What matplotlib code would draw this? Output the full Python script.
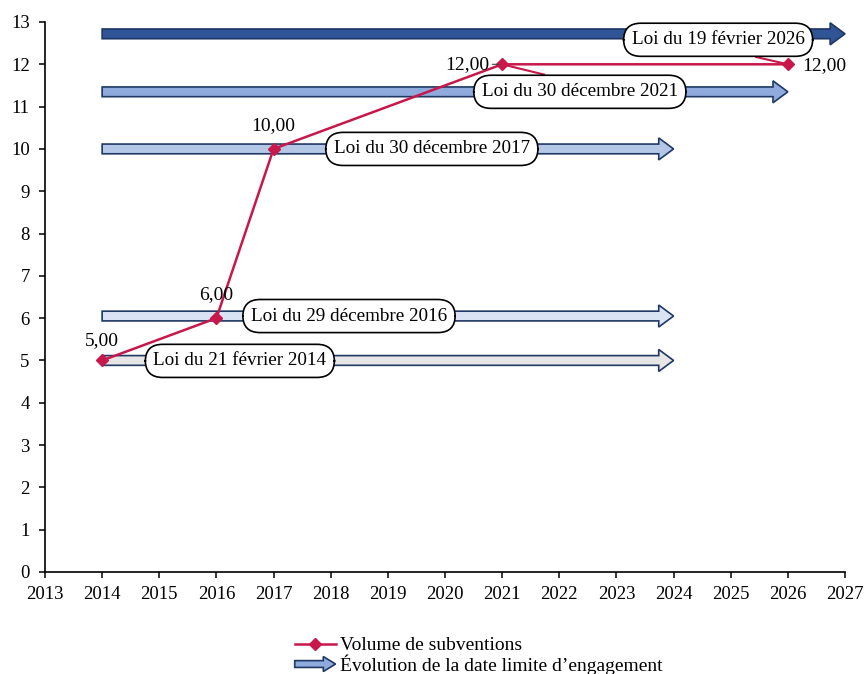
import matplotlib
matplotlib.use("Agg")
import matplotlib.pyplot as plt
from matplotlib.patches import FancyArrow
from matplotlib.lines import Line2D
from matplotlib.legend_handler import HandlerPatch

# Volume de subventions par loi
years = [2014, 2016, 2017, 2021, 2026]
volume = [5.00, 6.00, 10.00, 12.00, 12.00]

# Date limite d'engagement fixée par chaque loi
laws = ["Loi du 21 février 2014", "Loi du 29 décembre 2016", "Loi du 30 décembre 2017",
        "Loi du 30 décembre 2021", "Loi du 19 février 2026"]
law_start = [2014, 2014, 2014, 2014, 2014]
law_end = [2024, 2024, 2024, 2026, 2027]

# mise en page des flèches et bulles
arrow_y = [5.0, 6.05, 10.0, 11.35, 12.72]
arrow_fc = ["#e6e6e6", "#dae3f3", "#b4c7e7", "#8faadc", "#2f5597"]
bubble_xy = [(2016.41, 4.99), (2018.32, 6.05), (2019.77, 10.0), (2022.36, 11.35), (2024.78, 12.58)]

RED = "#c8174a"
EDGE = "#1f3864"
FONT = "Liberation Serif"

plt.rcParams["font.family"] = [FONT, "DejaVu Serif"]

fig = plt.figure(figsize=(8.65, 6.74), dpi=100)
ax = fig.add_axes([45 / 865, 1 - 572 / 674, 800 / 865, 550 / 674])

for x0, x1, y, fc in zip(law_start, law_end, arrow_y, arrow_fc):
    ax.add_patch(FancyArrow(x0, y, x1 - x0, 0, width=0.23, head_width=0.52, head_length=0.26,
                            length_includes_head=True, fc=fc, ec=EDGE, lw=1.2, zorder=2, clip_on=False))

ax.plot(years, volume, color=RED, lw=1.8, marker="D", ms=6, zorder=4, clip_on=False)

# étiquettes de valeurs
fmt = lambda v: f"{v:.2f}".replace(".", ",")
ax.text(years[0], volume[0] + 0.48, fmt(volume[0]), ha="center", va="center", fontsize=14, zorder=6)
ax.text(years[1], volume[1] + 0.55, fmt(volume[1]), ha="center", va="center", fontsize=14, zorder=6)
ax.text(years[2], volume[2] + 0.54, fmt(volume[2]), ha="center", va="center", fontsize=14, zorder=6)
ax.annotate(fmt(volume[3]), xy=(years[3] - 0.05, volume[3]), xytext=(years[3] - 0.22, volume[3]),
            ha="right", va="center", fontsize=14, zorder=6,
            arrowprops=dict(arrowstyle="-", color="#404040", lw=0.8, shrinkA=0, shrinkB=0))
ax.text(years[4] + 0.26, volume[4] - 0.02, fmt(volume[4]), ha="left", va="center", fontsize=14, zorder=6)

bbox = dict(boxstyle="round,pad=0.42,rounding_size=0.9", fc="white", ec="black", lw=1.2)
for i, (label, (bx, by)) in enumerate(zip(laws, bubble_xy)):
    if i == 3:
        ax.annotate(label, xy=(years[3], volume[3]), xytext=(bx, by), ha="center", va="center",
                    fontsize=13.8, bbox=bbox, zorder=7,
                    arrowprops=dict(arrowstyle="-", color=RED, lw=1.5, shrinkA=0, shrinkB=0,
                                    relpos=(0.5, 1.0)))
    elif i == 4:
        ax.annotate(label, xy=(years[4], volume[4]), xytext=(bx, by), ha="center", va="center",
                    fontsize=13.8, bbox=bbox, zorder=7,
                    arrowprops=dict(arrowstyle="-", color=RED, lw=1.5, shrinkA=0, shrinkB=0,
                                    relpos=(0.5, 0.0)))
    else:
        ax.text(bx, by, label, ha="center", va="center", fontsize=13.8, bbox=bbox, zorder=7)

ax.set_xlim(2013, 2027)
ax.set_ylim(0, 13)
ax.set_xticks(range(2013, 2028))
ax.set_yticks(range(0, 14))
ax.tick_params(direction="out", length=4, width=1.1, labelsize=13.5)
ax.tick_params(axis="y", pad=7)
ax.tick_params(axis="x", pad=6)
for s in ["top", "right"]:
    ax.spines[s].set_visible(False)
for s in ["left", "bottom"]:
    ax.spines[s].set_linewidth(1.2)


class HandlerArrow(HandlerPatch):
    def create_artists(self, legend, orig_handle, xdescent, ydescent, width, height, fontsize, trans):
        p = FancyArrow(-xdescent, -ydescent + height / 2, width, 0, width=height * 0.5,
                       head_width=height * 1.1, head_length=width * 0.3, length_includes_head=True)
        self.update_prop(p, orig_handle, legend)
        p.set_transform(trans)
        return [p]


h_line = Line2D([], [], color=RED, lw=1.8, marker="D", ms=6)
h_arrow = FancyArrow(0, 0, 1, 0, fc="#8faadc", ec=EDGE, lw=1.2)
fig.legend([h_line, h_arrow], ["Volume de subventions", "Évolution de la date limite d\u2019engagement"],
           handler_map={FancyArrow: HandlerArrow()}, loc="upper left",
           bbox_to_anchor=(285 / 865, 1 - 627 / 674), frameon=False, fontsize=14,
           handlelength=2.1, handletextpad=0.25, labelspacing=0.0, borderpad=0)

fig.savefig("out.png", dpi=100)
